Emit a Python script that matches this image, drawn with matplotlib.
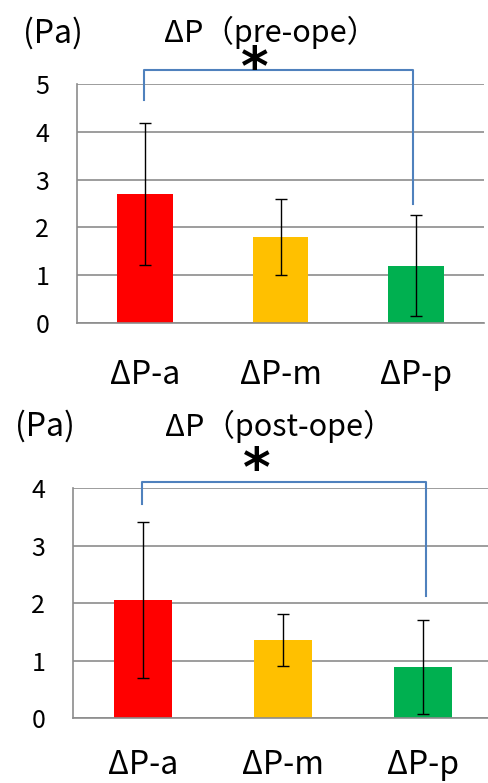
import matplotlib
matplotlib.use("Agg")
import matplotlib.pyplot as plt

plt.rcParams['font.family'] = ['Noto Sans CJK JP', 'DejaVu Sans']

categories = ['ΔP-a', 'ΔP-m', 'ΔP-p']
colors = ['#FF0000', '#FFC000', '#00B050']

pre_means = [2.7, 1.8, 1.2]
pre_errs = [1.49, 0.8, 1.05]
post_means = [2.05, 1.36, 0.89]
post_errs = [1.36, 0.45, 0.82]

# bracket: (left x, right x, top, left leg end, right leg end) in data units
pre_bracket = (-0.005, 1.98, 5.29, 4.67, 2.49)
post_bracket = (-0.01, 2.02, 4.10, 3.72, 2.12)

GRID = '#8C8C8C'
BRACKET = '#4F81BD'

fig = plt.figure(figsize=(4.88, 7.83), dpi=100)
ax1 = fig.add_axes([0.1578, 0.5875, 0.834, 0.3052])
ax2 = fig.add_axes([0.1496, 0.0830, 0.861, 0.2937])


def draw(ax, means, errs, ymax, bracket, title, title_x, title_y,
         star_y, pa_x, xpad):
    x = range(len(categories))
    ax.bar(x, means, width=0.41, color=colors, zorder=2)
    ax.errorbar(x, means, yerr=errs, fmt='none', ecolor='black',
                elinewidth=1, capsize=4.5, capthick=1, zorder=3)
    ax.set_xlim(-0.5, 2.5)
    ax.set_ylim(0, ymax)
    ax.set_yticks(range(ymax + 1))
    ax.yaxis.grid(True, color=GRID, linewidth=1.2, zorder=0)
    ax.set_axisbelow(True)
    for s in ['top', 'right']:
        ax.spines[s].set_visible(False)
    for s in ['left', 'bottom']:
        ax.spines[s].set_color(GRID)
        ax.spines[s].set_linewidth(1.2)
    ax.tick_params(length=0)
    ax.tick_params(axis='y', labelsize=18, pad=20)
    ax.tick_params(axis='x', labelsize=23, pad=xpad)
    ax.set_xticks(list(x))
    ax.set_xticklabels(categories)

    xl, xr, top, left_end, right_end = bracket
    ax.plot([xl, xl, xr, xr], [left_end, top, top, right_end],
            color=BRACKET, linewidth=1.5, clip_on=False)
    ax.text(0.81, star_y, '*', fontsize=38, fontweight='bold', ha='center',
            va='center', family='DejaVu Sans', clip_on=False)
    ax.text(title_x, title_y, title, fontsize=22, ha='center', va='center')
    ax.text(pa_x, title_y, '(Pa)', fontsize=23, ha='center', va='center')


draw(ax1, pre_means, pre_errs, 5, pre_bracket, 'ΔP（pre-ope）',
     0.93, 6.07, 5.30, -0.68, 26)
draw(ax2, post_means, post_errs, 4, post_bracket, 'ΔP（post-ope）',
     0.97, 5.08, 4.3, -0.7, 22)

fig.savefig('out.png', dpi=100)
